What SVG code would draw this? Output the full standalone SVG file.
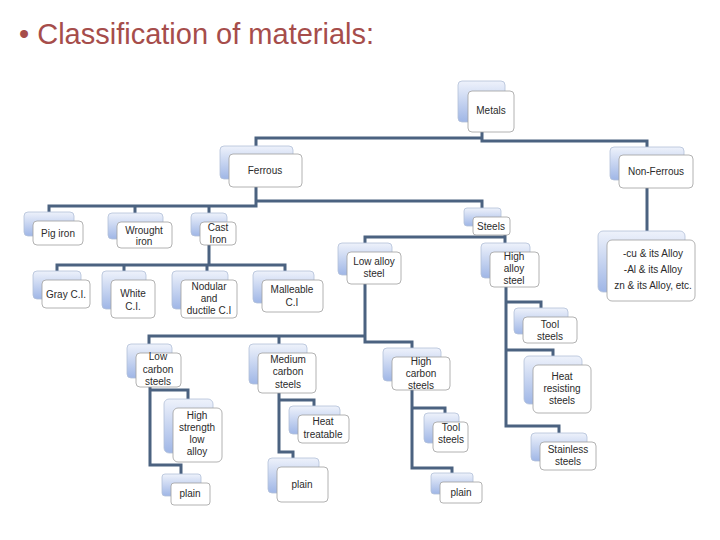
<svg xmlns="http://www.w3.org/2000/svg" width="720" height="540" viewBox="0 0 720 540">
<defs>
<linearGradient id="bg" x1="0" y1="0" x2="0" y2="1">
<stop offset="0" stop-color="#EEF2FB"/>
<stop offset="1" stop-color="#9FB6E6"/>
</linearGradient>
</defs>
<style>
.bk{fill:url(#bg);stroke:#B3C0D8;stroke-width:0.8}
.fr{fill:#FFFFFF;stroke:#A0A0A0;stroke-width:0.8}
.t{font-family:"Liberation Sans",Arial,sans-serif;font-size:10px;fill:#2B2B2B;text-anchor:middle}
.c{fill:none;stroke:#4B6280;stroke-width:3;stroke-linejoin:miter}
.title{font-family:"Liberation Sans",Arial,sans-serif;font-size:29px;fill:#A64D4B}
</style>
<rect width="720" height="540" fill="#FFFFFF"/>
<text class="title" x="19" y="44">• Classification of materials:</text>

<g id="connectors">
<path class="c" d="M256,146 V138 H482 V132 M482,138 V141 H647 V147"/>
<path class="c" d="M256,187 V206 H49 V212 M135,206 V213 M209,206 V213 M256,201 H482 V208"/>
<path class="c" d="M209,245 V265 M57,272 V265 H285 V272 M124,265 V272 M207,265 V272"/>
<path class="c" d="M505,235 V243 M505,237 H365 V243"/>
<path class="c" d="M365,284 V342 H412 V348 M365,336 H149 V344 M279,336 V344"/>
<path class="c" d="M150,387 V465 H181 V474 M150,390 H188 V399"/>
<path class="c" d="M279,393 V452 H293 V458 M279,400 H314 V406"/>
<path class="c" d="M412,390 V468 H452 V473 M412,408 H445 V413"/>
<path class="c" d="M506,287 V426 H559 V433 M506,302 H541 V308 M506,350 H553 V356"/>
<path class="c" d="M647,188 V231"/>
</g>

<g id="metals"><rect class="bk" x="458" y="81" width="47" height="41" rx="4"/><rect class="fr" x="468" y="91" width="46" height="41" rx="4"/><text class="t" x="491" y="114">Metals</text></g>
<g id="ferrous"><rect class="bk" x="220" y="146" width="73" height="33" rx="4"/><rect class="fr" x="229" y="154" width="73" height="33" rx="4"/><text class="t" x="265" y="174">Ferrous</text></g>
<g id="nonferrous"><rect class="bk" x="610" y="147" width="74" height="33" rx="4"/><rect class="fr" x="619" y="155" width="74" height="33" rx="4"/><text class="t" x="656" y="175">Non-Ferrous</text></g>
<g id="pigiron"><rect class="bk" x="24" y="212" width="50" height="24" rx="4"/><rect class="fr" x="33" y="221" width="50" height="24" rx="4"/><text class="t" x="58" y="237">Pig iron</text></g>
<g id="wrought"><rect class="bk" x="108" y="213" width="55" height="26" rx="4"/><rect class="fr" x="117" y="222" width="55" height="26" rx="4"/><text class="t"><tspan x="144" y="234">Wrought</tspan><tspan x="144" y="245">iron</tspan></text></g>
<g id="castiron"><rect class="bk" x="191" y="213" width="36" height="23" rx="4"/><rect class="fr" x="200" y="222" width="36" height="23" rx="4"/><text class="t"><tspan x="218" y="231">Cast</tspan><tspan x="218" y="243">Iron</tspan></text></g>
<g id="steels"><rect class="bk" x="464" y="208" width="37" height="18" rx="3"/><rect class="fr" x="473" y="217" width="37" height="18" rx="3"/><text class="t" x="491" y="230">Steels</text></g>
<g id="gray"><rect class="bk" x="33" y="271" width="48" height="28" rx="4"/><rect class="fr" x="42" y="280" width="48" height="28" rx="4"/><text class="t" x="66" y="298">Gray C.I.</text></g>
<g id="white"><rect class="bk" x="102" y="271" width="44" height="38" rx="4"/><rect class="fr" x="111" y="280" width="44" height="38" rx="4"/><text class="t"><tspan x="133" y="297">White</tspan><tspan x="133" y="310">C.I.</tspan></text></g>
<g id="nodular"><rect class="bk" x="172" y="271" width="56" height="38" rx="4"/><rect class="fr" x="181" y="280" width="56" height="38" rx="4"/><text class="t"><tspan x="209" y="290">Nodular</tspan><tspan x="209" y="302">and</tspan><tspan x="209" y="314">ductile C.I</tspan></text></g>
<g id="malleable"><rect class="bk" x="253" y="271" width="61" height="32" rx="4"/><rect class="fr" x="262" y="280" width="61" height="32" rx="4"/><text class="t"><tspan x="292" y="293">Malleable</tspan><tspan x="292" y="306">C.I</tspan></text></g>
<g id="lowalloy"><rect class="bk" x="338" y="243" width="54" height="32" rx="4"/><rect class="fr" x="347" y="252" width="54" height="32" rx="4"/><text class="t"><tspan x="374" y="265">Low alloy</tspan><tspan x="374" y="277">steel</tspan></text></g>
<g id="highalloy"><rect class="bk" x="481" y="243" width="49" height="35" rx="4"/><rect class="fr" x="490" y="252" width="49" height="35" rx="4"/><text class="t"><tspan x="514" y="260">High</tspan><tspan x="514" y="272">alloy</tspan><tspan x="514" y="284">steel</tspan></text></g>
<g id="nfalloys"><rect class="bk" x="598" y="231" width="87" height="61" rx="5"/><rect class="fr" x="607" y="240" width="88" height="61" rx="5"/><text class="t"><tspan x="653" y="257">-cu &amp; its Alloy</tspan><tspan x="653" y="273">-Al &amp; its Alloy</tspan><tspan x="653" y="289">zn &amp; its Alloy, etc.</tspan></text></g>
<g id="lowcarbon"><rect class="bk" x="127" y="344" width="45" height="34" rx="4"/><rect class="fr" x="136" y="353" width="45" height="34" rx="4"/><text class="t"><tspan x="158" y="360">Low</tspan><tspan x="158" y="373">carbon</tspan><tspan x="158" y="385">steels</tspan></text></g>
<g id="mediumcarbon"><rect class="bk" x="249" y="344" width="58" height="40" rx="4"/><rect class="fr" x="258" y="353" width="58" height="40" rx="4"/><text class="t"><tspan x="288" y="363">Medium</tspan><tspan x="288" y="375">carbon</tspan><tspan x="288" y="388">steels</tspan></text></g>
<g id="highcarbon"><rect class="bk" x="383" y="348" width="58" height="33" rx="4"/><rect class="fr" x="392" y="357" width="58" height="33" rx="4"/><text class="t"><tspan x="421" y="365">High</tspan><tspan x="421" y="377">carbon</tspan><tspan x="421" y="389">steels</tspan></text></g>
<g id="toolha"><rect class="bk" x="514" y="308" width="54" height="26" rx="4"/><rect class="fr" x="523" y="317" width="54" height="26" rx="4"/><text class="t"><tspan x="550" y="328">Tool</tspan><tspan x="550" y="340">steels</tspan></text></g>
<g id="heatresisting"><rect class="bk" x="524" y="356" width="58" height="48" rx="5"/><rect class="fr" x="533" y="365" width="58" height="48" rx="5"/><text class="t"><tspan x="562" y="380">Heat</tspan><tspan x="562" y="392">resisting</tspan><tspan x="562" y="404">steels</tspan></text></g>
<g id="stainless"><rect class="bk" x="531" y="433" width="56" height="28" rx="4"/><rect class="fr" x="540" y="442" width="56" height="28" rx="4"/><text class="t"><tspan x="568" y="453">Stainless</tspan><tspan x="568" y="465">steels</tspan></text></g>
<g id="hsla"><rect class="bk" x="164" y="399" width="49" height="54" rx="5"/><rect class="fr" x="173" y="408" width="49" height="54" rx="5"/><text class="t"><tspan x="197" y="419">High</tspan><tspan x="197" y="431">strength</tspan><tspan x="197" y="443">low</tspan><tspan x="197" y="455">alloy</tspan></text></g>
<g id="plainlc"><rect class="bk" x="162" y="474" width="39" height="22" rx="3"/><rect class="fr" x="171" y="483" width="39" height="22" rx="3"/><text class="t" x="190" y="497">plain</text></g>
<g id="heattreatable"><rect class="bk" x="289" y="406" width="51" height="28" rx="4"/><rect class="fr" x="298" y="415" width="51" height="28" rx="4"/><text class="t"><tspan x="323" y="425">Heat</tspan><tspan x="323" y="438">treatable</tspan></text></g>
<g id="plainmc"><rect class="bk" x="268" y="458" width="51" height="35" rx="4"/><rect class="fr" x="277" y="467" width="51" height="35" rx="4"/><text class="t" x="302" y="488">plain</text></g>
<g id="toolhc"><rect class="bk" x="424" y="413" width="35" height="30" rx="4"/><rect class="fr" x="433" y="422" width="35" height="30" rx="4"/><text class="t"><tspan x="451" y="431">Tool</tspan><tspan x="451" y="443">steels</tspan></text></g>
<g id="plainhc"><rect class="bk" x="431" y="473" width="42" height="21" rx="3"/><rect class="fr" x="440" y="482" width="42" height="21" rx="3"/><text class="t" x="461" y="496">plain</text></g>
</svg>
